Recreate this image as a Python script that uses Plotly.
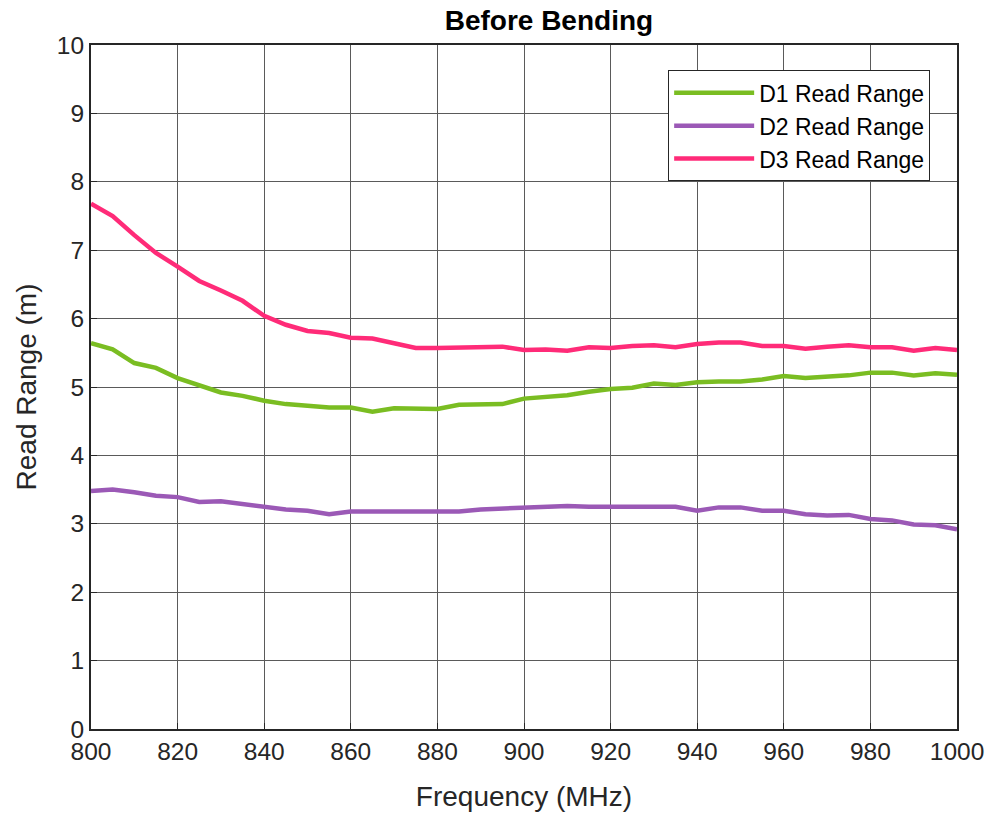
import plotly.graph_objects as go

freq = list(range(800, 1001, 5))

d1 = [5.64, 5.55, 5.35, 5.28, 5.13, 5.03, 4.92, 4.87, 4.80, 4.75,
      4.73, 4.70, 4.70, 4.64, 4.69, 4.68, 4.68, 4.74, 4.74, 4.75,
      4.83, 4.85, 4.88, 4.93, 4.97, 4.99, 5.05, 5.03, 5.07, 5.08,
      5.08, 5.11, 5.16, 5.13, 5.15, 5.17, 5.21, 5.21, 5.17, 5.20, 5.18]

d2 = [3.48, 3.50, 3.46, 3.41, 3.39, 3.32, 3.33, 3.29, 3.25, 3.21,
      3.19, 3.14, 3.18, 3.18, 3.17, 3.17, 3.17, 3.18, 3.21, 3.22,
      3.23, 3.24, 3.26, 3.25, 3.25, 3.26, 3.26, 3.25, 3.19, 3.24,
      3.24, 3.19, 3.19, 3.14, 3.12, 3.13, 3.07, 3.05, 2.99, 2.98, 2.92]

d3 = [7.68, 7.50, 7.22, 6.96, 6.76, 6.55, 6.41, 6.26, 6.04, 5.91,
      5.82, 5.79, 5.72, 5.71, 5.64, 5.57, 5.57, 5.58, 5.58, 5.59,
      5.54, 5.55, 5.53, 5.58, 5.57, 5.60, 5.61, 5.58, 5.63, 5.65,
      5.65, 5.60, 5.60, 5.56, 5.59, 5.61, 5.58, 5.58, 5.53, 5.57, 5.54]

series = [("D1 Read Range", d1, "#7ABD22"),
          ("D2 Read Range", d2, "#9B59B6"),
          ("D3 Read Range", d3, "#FF2B78")]

x_ticks = list(range(800, 1001, 20))
y_ticks = list(range(0, 11, 1))

fig = go.Figure()
for i, (name, vals, color) in enumerate(series):
    fig.add_trace(go.Scatter(x=freq, y=vals, mode="lines", name=name,
                             legendgroup=f"g{i}",
                             line=dict(color=color, width=4.5)))

font_family = "Liberation Sans, Arial, sans-serif"

fig.update_layout(
    width=991, height=817,
    margin=dict(l=91, r=34, t=45, b=88),
    paper_bgcolor="white", plot_bgcolor="white",
    font=dict(family=font_family, color="#262626"),
    title=dict(text="<b>Before Bending</b>", x=(91 + 866 / 2) / 991, xanchor="center",
               xref="paper", y=1 - 20 / 817, yanchor="middle",
               font=dict(size=28, color="black", family=font_family)),
    showlegend=True,
    legend=dict(x=0.969, xanchor="right", y=0.963, yanchor="top",
                bgcolor="white", bordercolor="#262626", borderwidth=1,
                font=dict(size=23, color="black", family=font_family),
                itemwidth=80, tracegroupgap=5, traceorder="normal"),
    xaxis=dict(range=[800, 1000], tickvals=x_ticks,
               ticktext=[str(v) for v in x_ticks],
               automargin=False,
               showgrid=True, gridcolor="#5a5a5a", gridwidth=1,
               showline=True, linecolor="#262626", linewidth=2, mirror=True,
               ticks="inside", ticklen=6, tickcolor="#262626",
               tickfont=dict(size=24.5, color="#262626"),
               title=dict(text="Frequency (MHz)", font=dict(size=28, color="#262626"),
                          standoff=22),
               zeroline=False),
    yaxis=dict(range=[0, 10], tickvals=y_ticks,
               ticktext=[str(v) for v in y_ticks],
               automargin=False,
               showgrid=True, gridcolor="#5a5a5a", gridwidth=1,
               showline=True, linecolor="#262626", linewidth=2, mirror=True,
               ticks="inside", ticklen=6, tickcolor="#262626",
               tickfont=dict(size=24.5, color="#262626"),
               title=dict(text="Read Range (m)", font=dict(size=28, color="#262626"),
                          standoff=12),
               zeroline=False),
)

fig.write_html("out.html")
